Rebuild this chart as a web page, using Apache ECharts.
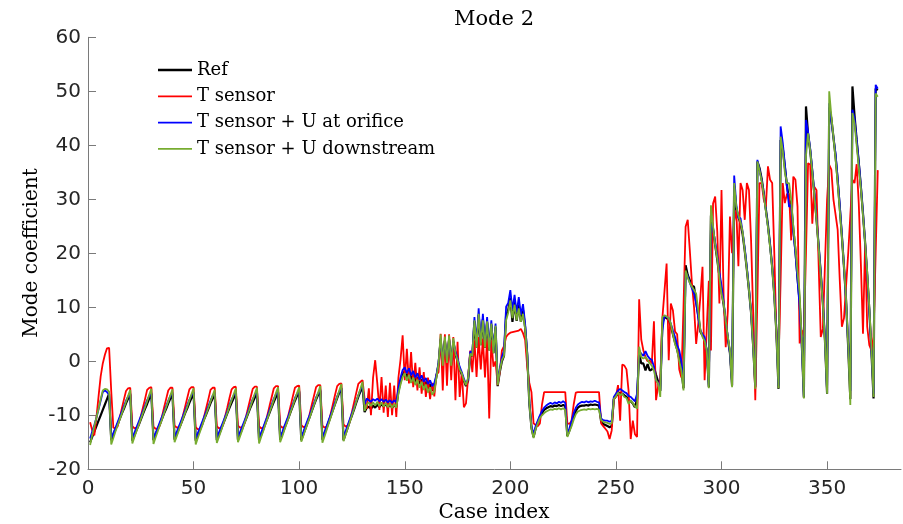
<!DOCTYPE html>
<html>
<head>
<meta charset="utf-8">
<script src="https://cdn.jsdelivr.net/npm/echarts@6/dist/echarts.min.js"></script>
<style>html,body{margin:0;padding:0;background:#fff}#c{width:903px;height:524px}</style>
</head>
<body>
<div id="c"></div>
<script>
var seriesNames = ['Ref', 'T sensor', 'T sensor + U at orifice', 'T sensor + U downstream'];
var xTicks = [0, 50, 100, 150, 200, 250, 300, 350];
var yTicks = [-20, -10, 0, 10, 20, 30, 40, 50, 60];

var refVals = [
-15.0,-14.0,-13.0,-12.0,-11.0,-10.0,-9.0,-8.0,-7.0,-6.0,
-14.6,-13.6,-12.6,-11.7,-10.7,-9.7,-8.8,-7.8,-6.9,-6.1,
-14.7,-13.7,-12.7,-11.8,-10.8,-9.8,-8.8,-7.9,-6.9,-6.0,
-14.6,-13.6,-12.6,-11.7,-10.7,-9.7,-8.8,-7.8,-6.9,-6.1,
-14.5,-13.5,-12.5,-11.6,-10.6,-9.6,-8.7,-7.7,-6.8,-5.9,
-14.7,-13.7,-12.7,-11.7,-10.7,-9.8,-8.8,-7.8,-6.9,-6.0,
-14.6,-13.6,-12.6,-11.6,-10.6,-9.6,-8.6,-7.7,-6.8,-5.9,
-14.5,-13.5,-12.5,-11.5,-10.5,-9.5,-8.5,-7.6,-6.7,-5.8,
-14.6,-13.6,-12.6,-11.5,-10.5,-9.5,-8.5,-7.5,-6.6,-5.7,
-14.5,-13.5,-12.4,-11.4,-10.4,-9.3,-8.3,-7.3,-6.4,-5.6,
-14.6,-13.5,-12.4,-11.3,-10.3,-9.2,-8.1,-7.1,-6.2,-5.4,
-14.5,-13.4,-12.3,-11.2,-10.1,-9.0,-7.9,-6.8,-5.8,-5.0,
-14.6,-13.4,-12.3,-11.1,-10.0,-8.9,-7.7,-6.6,-5.6,-4.7,
-9.4,-8.6,-8.4,-8.8,-8.2,-8.6,-8.0,-8.5,-7.9,-8.4,
-7.9,-8.5,-8.0,-8.6,-8.1,-8.5,-5.5,-3.8,-2.5,-1.8,
-3.0,-2.0,-3.4,-2.5,-3.8,-2.9,-4.2,-3.3,-4.6,-3.8,
-5.0,-4.2,-5.4,-5.0,-2.8,-0.6,4.0,-0.5,3.8,-0.2,
4.0,-0.6,3.6,1.3,0.0,-1.5,-2.4,-3.6,-4.6,-3.6,
1.2,1.0,7.4,2.5,8.6,3.0,7.8,2.5,7.2,2.0,
6.8,1.5,6.3,-4.6,-2.0,0.0,1.0,8.5,9.5,11.8,
7.3,11.0,7.5,10.5,7.3,9.5,6.3,1.2,-7.8,-12.3,
-14.0,-12.4,-11.3,-10.3,-9.6,-9.0,-8.7,-8.5,-8.3,-8.4,
-8.2,-8.3,-8.1,-8.3,-8.1,-8.3,-13.8,-12.8,-11.5,-10.2,
-9.2,-8.6,-8.3,-8.2,-8.2,-8.1,-8.2,-8.0,-8.1,-8.0,
-8.1,-8.2,-11.2,-11.6,-11.8,-12.0,-12.2,-12.0,-7.0,-6.5,
-6.0,-5.8,-6.0,-6.3,-6.6,-7.2,-7.4,-7.8,-8.5,-7.0,
1.5,-0.4,-0.4,-1.7,-0.5,-1.7,-1.5,-1.0,-2.5,-3.8,
-5.5,7.0,8.3,8.0,7.6,6.5,5.0,3.5,2.2,0.5,
-1.5,-5.0,17.8,16.0,15.0,14.0,13.8,11.0,8.5,5.5,
4.8,4.0,2.0,-4.8,27.0,24.5,21.5,18.8,15.8,13.0,
10.5,7.3,4.2,1.5,-4.5,32.5,28.0,26.8,25.5,23.5,
20.5,17.0,13.2,9.0,2.8,-4.8,37.0,35.8,33.8,31.2,
28.2,25.2,21.5,17.5,12.3,5.3,-5.1,41.0,39.5,36.0,
32.5,30.0,29.0,24.5,20.5,15.5,11.0,3.5,-6.7,47.2,
42.0,39.0,35.0,30.8,26.3,21.3,16.3,10.8,3.8,-6.0,
47.0,45.0,41.5,38.0,33.5,28.5,23.2,17.5,11.2,2.5,
-7.0,50.9,45.5,41.0,36.8,32.3,27.3,22.0,16.0,9.5,
1.8,-6.9,50.5,50.2
];

var tSensorVals = [
-11.3,-12.8,-13.7,-10.4,-6.5,-2.8,-0.4,1.2,2.4,2.5,
-5.5,-12.3,-12.4,-12.1,-10.5,-8.8,-7.1,-5.5,-5.0,-4.9,
-12.0,-12.4,-12.3,-11.8,-10.2,-8.6,-7.0,-5.3,-4.9,-4.8,
-12.1,-12.5,-12.4,-11.9,-10.3,-8.6,-7.0,-5.4,-4.9,-4.9,
-11.9,-12.3,-12.2,-11.6,-10.0,-8.4,-6.8,-5.2,-4.8,-4.8,
-12.2,-12.6,-12.5,-11.9,-10.2,-8.6,-7.0,-5.3,-4.9,-4.9,
-12.0,-12.4,-12.3,-11.7,-10.1,-8.5,-6.8,-5.2,-4.8,-4.7,
-11.9,-12.3,-12.2,-11.6,-10.0,-8.3,-6.7,-5.1,-4.7,-4.7,
-12.0,-12.4,-12.3,-11.6,-9.9,-8.2,-6.6,-5.0,-4.6,-4.6,
-11.9,-12.3,-12.2,-11.5,-9.8,-8.2,-6.5,-4.9,-4.6,-4.5,
-11.8,-12.2,-12.1,-11.4,-9.7,-8.0,-6.4,-4.8,-4.4,-4.4,
-11.9,-12.3,-12.1,-11.3,-9.6,-7.9,-6.2,-4.6,-4.2,-4.1,
-11.7,-12.1,-11.9,-11.1,-9.4,-7.6,-5.9,-4.2,-3.8,-3.5,
-7.0,-8.8,-5.0,-10.0,-3.0,0.2,-4.1,-9.0,-2.9,-9.5,
-4.5,-10.3,-4.0,-10.0,-4.5,-10.3,-3.0,0.3,4.8,-3.5,
2.3,-4.1,1.7,-4.8,-0.3,-5.4,-1.1,-6.0,-2.0,-6.6,
-3.0,-7.0,-4.0,-6.5,-2.5,-2.0,5.1,-5.4,5.0,-4.5,
5.0,-3.5,4.5,-7.2,3.6,-6.6,-2.0,-8.5,-7.8,-3.0,
2.0,-2.0,3.9,-2.9,4.5,-1.5,4.2,-3.0,4.2,-10.6,
4.0,-1.0,0.0,-4.4,-2.0,2.0,2.8,4.5,5.0,5.3,
5.4,5.5,5.6,5.7,6.0,5.2,4.0,-1.0,-4.0,-5.7,
-11.5,-11.8,-12.0,-11.5,-8.0,-5.7,-5.7,-5.7,-5.7,-5.7,
-5.7,-5.7,-5.7,-5.7,-5.7,-5.7,-11.5,-11.6,-11.0,-8.0,
-5.8,-5.7,-5.7,-5.7,-5.7,-5.7,-5.7,-5.7,-5.7,-5.7,
-5.7,-5.7,-11.5,-12.0,-12.5,-13.0,-14.4,-12.8,-7.0,-6.5,
-4.4,-11.0,-0.6,-0.8,-1.5,-5.5,-14.4,-11.0,-13.5,-14.0,
11.5,4.0,2.0,0.8,0.0,0.2,-0.4,7.4,-7.2,-4.5,
-3.5,8.0,13.0,18.1,0.2,10.7,9.4,5.5,5.0,-1.5,
-3.0,10.0,24.9,26.2,20.5,14.4,10.0,3.2,7.0,12.0,
17.5,-3.5,6.0,14.9,2.0,29.2,30.5,24.0,10.7,31.7,
12.0,2.6,9.4,26.8,20.0,26.0,28.0,17.6,33.0,31.7,
26.2,33.0,31.7,22.4,8.9,-7.2,12.0,33.0,33.0,30.0,
28.6,36.1,33.6,33.0,20.0,5.0,-0.4,15.0,33.0,29.3,
31.0,31.0,22.4,34.2,33.6,28.6,3.3,5.8,4.5,20.0,
36.7,36.4,25.5,32.3,31.7,18.0,4.5,6.0,18.0,30.0,
36.4,35.5,30.0,27.2,24.4,15.0,6.4,8.0,14.0,20.0,
27.0,33.6,33.0,36.5,29.2,18.0,5.1,21.8,6.4,3.0,
2.0,4.5,20.0,35.4
];

var orificeVals = [
-14.3,-13.0,-11.8,-10.4,-8.9,-7.3,-5.7,-5.4,-5.7,-6.2,
-14.3,-13.3,-12.3,-11.3,-10.3,-9.3,-8.3,-7.3,-6.5,-5.9,
-14.2,-13.2,-12.2,-11.2,-10.2,-9.2,-8.2,-7.2,-6.4,-5.8,
-14.4,-13.3,-12.3,-11.3,-10.3,-9.3,-8.3,-7.3,-6.4,-5.8,
-14.1,-13.1,-12.1,-11.1,-10.1,-9.1,-8.1,-7.1,-6.3,-5.7,
-14.3,-13.3,-12.3,-11.3,-10.3,-9.3,-8.3,-7.3,-6.4,-5.8,
-14.2,-13.2,-12.2,-11.2,-10.2,-9.2,-8.1,-7.1,-6.3,-5.6,
-14.1,-13.1,-12.1,-11.1,-10.1,-9.1,-8.0,-7.0,-6.2,-5.6,
-14.2,-13.2,-12.2,-11.1,-10.1,-9.0,-8.0,-6.9,-6.1,-5.5,
-14.1,-13.1,-12.0,-11.0,-10.0,-8.9,-7.9,-6.8,-6.0,-5.4,
-14.0,-13.0,-11.9,-10.9,-9.9,-8.8,-7.8,-6.7,-5.9,-5.2,
-14.2,-13.1,-12.0,-10.9,-9.8,-8.7,-7.6,-6.5,-5.6,-4.9,
-14.0,-12.9,-11.8,-10.7,-9.6,-8.5,-7.4,-6.3,-5.3,-4.5,
-8.0,-6.9,-7.2,-7.5,-7.0,-7.3,-6.9,-7.4,-7.0,-7.5,
-7.1,-7.6,-7.2,-7.7,-7.2,-7.6,-4.9,-3.0,-1.6,-1.1,
-2.2,-1.3,-2.6,-1.8,-3.0,-2.2,-3.4,-2.6,-3.8,-3.1,
-4.2,-3.5,-4.6,-4.0,-2.5,-0.2,4.2,0.0,4.0,0.3,
4.2,-0.2,3.8,1.8,0.5,-1.0,-2.0,-3.2,-4.2,-3.3,
1.8,1.5,8.2,3.0,9.8,3.5,8.8,3.0,8.2,2.5,
7.6,2.0,7.0,-4.0,-1.4,0.8,2.0,10.1,10.8,13.2,
9.5,12.3,9.0,11.9,8.6,10.6,7.0,1.5,-7.5,-12.0,
-13.5,-12.0,-11.0,-10.0,-9.2,-8.6,-8.2,-7.9,-7.7,-7.9,
-7.6,-7.8,-7.5,-7.7,-7.4,-7.7,-13.5,-12.4,-11.0,-9.6,
-8.6,-8.0,-7.7,-7.5,-7.6,-7.4,-7.6,-7.4,-7.5,-7.3,
-7.5,-7.6,-10.6,-10.9,-11.0,-11.0,-11.2,-11.0,-6.6,-6.0,
-5.4,-5.1,-5.4,-5.7,-5.9,-6.4,-6.6,-7.0,-7.4,-6.0,
2.0,1.4,1.0,1.9,1.0,0.5,0.3,-1.0,-3.5,-4.0,
-5.4,5.7,8.5,8.2,8.0,7.0,5.7,4.5,3.0,2.0,
0.0,-4.1,16.5,15.8,14.5,13.5,12.5,10.7,8.0,5.7,
5.0,4.5,2.0,-4.5,25.5,24.5,22.0,19.5,16.5,14.0,
11.0,7.5,4.5,1.5,-4.0,34.4,29.0,26.5,26.5,24.0,
21.0,17.5,13.5,9.0,3.0,-4.5,37.3,35.5,33.6,31.0,
28.0,25.0,21.5,17.5,12.5,5.5,-4.5,43.5,40.5,36.5,
32.3,28.6,29.0,24.0,20.0,15.0,10.0,3.0,-6.5,44.7,
42.5,39.5,35.5,31.0,26.5,21.5,16.5,11.0,4.0,-5.8,
47.8,44.5,41.5,38.5,34.0,29.0,23.5,17.5,11.0,3.0,
-5.5,46.6,45.0,41.0,37.0,32.5,27.5,22.0,16.0,9.5,
2.0,-6.0,51.2,50.5
];

var downstreamVals = [
-15.5,-13.6,-12.0,-10.4,-8.8,-7.0,-5.4,-5.1,-5.2,-5.6,
-15.4,-14.2,-13.0,-11.9,-10.8,-9.7,-8.6,-7.5,-6.4,-5.3,
-15.2,-14.0,-12.9,-11.8,-10.7,-9.6,-8.5,-7.4,-6.2,-5.1,
-15.3,-14.1,-13.0,-11.9,-10.8,-9.6,-8.5,-7.4,-6.3,-5.2,
-15.0,-13.9,-12.8,-11.7,-10.6,-9.5,-8.4,-7.2,-6.1,-5.0,
-15.4,-14.2,-13.1,-12.0,-10.8,-9.7,-8.6,-7.5,-6.4,-5.3,
-15.1,-14.0,-12.9,-11.7,-10.6,-9.5,-8.3,-7.2,-6.1,-5.0,
-15.0,-13.9,-12.8,-11.6,-10.5,-9.4,-8.3,-7.1,-6.0,-4.9,
-15.2,-14.0,-12.9,-11.7,-10.6,-9.4,-8.3,-7.1,-5.9,-4.8,
-15.0,-13.9,-12.7,-11.6,-10.5,-9.3,-8.2,-7.0,-5.9,-4.8,
-14.9,-13.8,-12.6,-11.5,-10.4,-9.2,-8.1,-6.9,-5.8,-4.6,
-15.1,-13.9,-12.7,-11.5,-10.3,-9.1,-7.9,-6.6,-5.4,-4.2,
-14.8,-13.6,-12.4,-11.2,-10.0,-8.8,-7.5,-6.3,-5.1,-3.8,
-9.2,-8.0,-7.6,-8.3,-7.6,-8.2,-7.5,-8.3,-7.6,-8.4,
-7.7,-8.5,-7.8,-8.6,-7.9,-8.6,-6.0,-4.3,-2.9,-2.2,
-3.6,-2.5,-4.0,-3.0,-4.4,-3.4,-4.9,-3.8,-5.3,-4.3,
-5.8,-4.8,-6.2,-5.6,-3.0,-0.5,5.0,-0.8,4.6,-0.3,
4.8,-0.8,4.3,1.5,0.2,-1.5,-2.2,-3.5,-4.4,-3.0,
1.4,1.0,7.6,2.5,8.8,3.0,7.6,2.5,7.4,2.0,
7.0,1.5,6.6,-4.4,-1.7,0.2,1.0,7.6,9.0,11.3,
8.0,10.5,7.6,9.8,7.3,8.8,6.0,1.0,-7.8,-12.5,
-14.2,-12.5,-11.5,-10.5,-10.0,-9.6,-9.3,-9.1,-8.9,-9.0,
-8.8,-8.9,-8.7,-8.9,-8.7,-9.0,-14.0,-13.0,-12.0,-10.8,
-9.8,-9.3,-9.1,-9.0,-8.9,-9.0,-8.8,-8.9,-8.8,-8.9,
-8.8,-9.0,-10.9,-11.2,-11.3,-11.4,-11.6,-11.5,-7.0,-6.5,
-5.8,-6.3,-6.0,-6.6,-6.8,-7.9,-7.2,-7.8,-8.3,-8.8,
2.7,0.8,0.5,0.8,0.3,-0.4,-0.8,-1.7,-3.5,-4.1,
-6.6,8.2,8.5,8.3,8.0,7.0,5.0,3.2,2.0,0.0,
-1.7,-5.4,16.8,15.5,14.5,13.8,13.2,12.5,9.4,5.7,
4.5,3.8,2.0,-5.0,28.9,25.0,21.5,19.0,15.5,12.5,
10.7,7.5,4.5,2.0,-4.8,33.0,28.6,27.0,25.8,24.0,
20.5,17.0,13.2,9.0,2.5,-5.1,37.0,35.3,33.4,30.8,
27.8,24.8,21.2,17.2,12.0,5.0,-5.0,41.6,39.0,35.0,
33.0,33.0,30.0,25.0,21.0,16.5,12.6,4.0,-6.9,38.0,
42.2,39.0,35.0,30.5,26.0,21.0,16.0,10.5,3.5,-6.0,
50.0,45.5,41.5,37.5,33.0,28.0,23.0,17.5,11.5,3.0,
-8.1,46.0,44.0,40.0,36.0,32.0,27.0,22.0,16.5,10.0,
2.5,-6.6,49.6,49.0
];

function pairs(vals) {
  return vals.map(function (v, i) { return [i + 1, v]; });
}

var chart = echarts.init(document.getElementById('c'), null, { renderer: 'canvas' });
var axisCol = '#7a7a7a';
var labelCol = '#262626';
var serif = '"DejaVu Serif", serif';
var sans = '"DejaVu Sans", sans-serif';
var thickIcon = 'path://M0 0H100V8H0Z';
var thinIcon = 'path://M0 0H100V5H0Z';

chart.setOption({
  animation: false,
  backgroundColor: '#ffffff',
  grid: { left: 88, right: 2, top: 37.3, bottom: 54.7, containLabel: false },
  xAxis: {
    type: 'value', min: 0, max: 385,
    axisLine: { show: true, onZero: false, lineStyle: { color: axisCol, width: 1 } },
    axisTick: { show: true, inside: true, length: 8, lineStyle: { color: axisCol }, customValues: xTicks },
    axisLabel: { show: true, color: labelCol, fontFamily: sans, fontSize: 20, margin: 9, customValues: xTicks },
    splitLine: { show: false }
  },
  yAxis: {
    type: 'value', min: -20, max: 60, interval: 10,
    axisLine: { show: true, onZero: false, lineStyle: { color: axisCol, width: 1 } },
    axisTick: { show: true, inside: true, length: 8, lineStyle: { color: axisCol }, customValues: yTicks },
    axisLabel: { show: true, color: labelCol, fontFamily: sans, fontSize: 20, margin: 7, customValues: yTicks },
    splitLine: { show: false }
  },
  legend: {
    show: true, orient: 'vertical', left: 153, top: 56,
    itemWidth: 34, itemHeight: 18, itemGap: 8.3,
    textStyle: { fontFamily: serif, fontSize: 18, color: '#000', lineHeight: 18 },
    data: [
      { name: seriesNames[0], icon: thickIcon },
      { name: seriesNames[1], icon: thinIcon },
      { name: seriesNames[2], icon: thinIcon },
      { name: seriesNames[3], icon: thinIcon }
    ]
  },
  graphic: [
    { type: 'text', x: 494, y: 20, style: { text: 'Mode 2', font: '21px "DejaVu Serif", serif', fill: '#000', textAlign: 'center', textVerticalAlign: 'middle' } },
    { type: 'text', x: 494, y: 513, style: { text: 'Case index', font: '20px "DejaVu Serif", serif', fill: '#000', textAlign: 'center', textVerticalAlign: 'middle' } },
    { type: 'text', x: 32, y: 253, rotation: Math.PI / 2, style: { text: 'Mode coefficient', font: '20px "DejaVu Serif", serif', fill: '#000', textAlign: 'center', textVerticalAlign: 'middle' } }
  ],
  series: [
    { name: seriesNames[0], type: 'line', symbol: 'none', data: pairs(refVals), color: '#000000', lineStyle: { width: 2.2, color: '#000000' } },
    { name: seriesNames[1], type: 'line', symbol: 'none', data: pairs(tSensorVals), color: '#ff0000', lineStyle: { width: 1.8, color: '#ff0000' } },
    { name: seriesNames[2], type: 'line', symbol: 'none', data: pairs(orificeVals), color: '#0000ff', lineStyle: { width: 1.8, color: '#0000ff' } },
    { name: seriesNames[3], type: 'line', symbol: 'none', data: pairs(downstreamVals), color: '#77ac30', lineStyle: { width: 1.8, color: '#77ac30' } }
  ]
});
</script>
</body>
</html>
